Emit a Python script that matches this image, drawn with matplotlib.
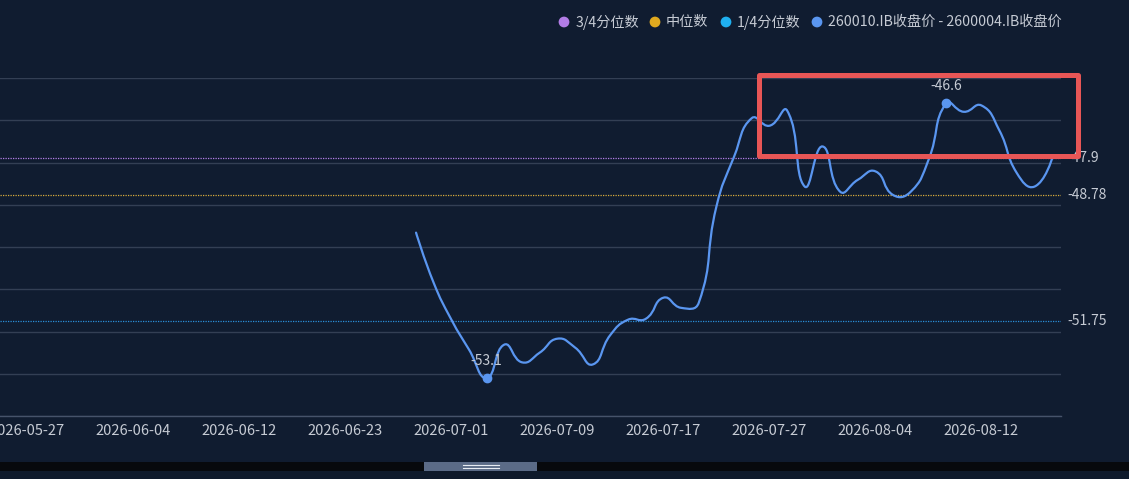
import numpy as np
import pandas as pd
import matplotlib
matplotlib.use('Agg')
import matplotlib.pyplot as plt
from matplotlib.path import Path
from matplotlib.patches import PathPatch, Rectangle

plt.rcParams['font.family'] = ['Noto Sans CJK SC', 'DejaVu Sans']

# trading-day categories (dragon boat holiday 06-19 skipped)
categories = pd.bdate_range('2026-05-27', '2026-08-18', freq='C',
                            holidays=['2026-06-19']).strftime('%Y-%m-%d').tolist()
tick_labels = ['2026-05-27', '2026-06-04', '2026-06-12', '2026-06-23', '2026-07-01',
               '2026-07-09', '2026-07-17', '2026-07-27', '2026-08-04', '2026-08-12']

spread_start = '2026-06-29'
spread = [-49.66, -50.85, -51.72, -52.43, -53.10, -52.31, -52.73, -52.50, -52.17, -52.38,
          -52.78, -52.08, -51.72, -51.70, -51.20, -51.44, -51.32, -49.04, -47.86, -46.95,
          -47.13, -46.77, -48.57, -47.62, -48.69, -48.41, -48.21, -48.77, -48.69, -47.94,
          -46.60, -46.80, -46.65, -47.23, -48.25, -48.57, -47.90]

q3 = -47.9
median = -48.78
q1 = -51.75

legend_names = ['3/4分位数', '中位数', '1/4分位数', '260010.IB收盘价 - 2600004.IB收盘价']

bg = '#101c30'
line_c = '#5a96f0'
q3_c = '#b27de6'
med_c = '#d6ab3c'
q1_c = '#2a8fd8'
txt_c = '#c6cbd4'

W, H = 1129, 479
fig = plt.figure(figsize=(W / 100, H / 100), dpi=100, facecolor=bg)

# plot area in pixels: x 0..1061, y 78..416
ax = fig.add_axes([0, (H - 416) / H, 1061 / W, (416 - 78) / H])
ax.set_facecolor('none')

x0 = categories.index(spread_start)
xs = np.arange(x0, x0 + len(spread))
ys = np.array(spread)
x_right = len(categories) - 0.5
ax.set_xlim(x_right - 1061 / 17.67, x_right)
ax.set_ylim(-54, -46)


def smooth_path(xs, ys, sx, sy, k=0.5):
    # echarts-like bezier smoothing, computed in pixel scale
    px = np.asarray(xs, float) * sx
    py = np.asarray(ys, float) * sy
    n = len(px)
    cps = []
    for i in range(n):
        if i == 0 or i == n - 1:
            cps.append(((px[i], py[i]), (px[i], py[i])))
            continue
        vx = px[i + 1] - px[i - 1]
        vy = py[i + 1] - py[i - 1]
        d0 = np.hypot(px[i] - px[i - 1], py[i] - py[i - 1])
        d1 = np.hypot(px[i + 1] - px[i], py[i + 1] - py[i])
        r0 = d0 / (d0 + d1)
        r1 = d1 / (d0 + d1)
        cps.append(((px[i] - vx * k * r0, py[i] - vy * k * r0),
                    (px[i] + vx * k * r1, py[i] + vy * k * r1)))
    verts = [(xs[0], ys[0])]
    codes = [Path.MOVETO]
    for i in range(n - 1):
        c1 = cps[i][1]
        c2 = cps[i + 1][0]
        verts += [(c1[0] / sx, c1[1] / sy), (c2[0] / sx, c2[1] / sy), (xs[i + 1], ys[i + 1])]
        codes += [Path.CURVE4] * 3
    return Path(verts, codes)


ax.add_patch(PathPatch(smooth_path(xs, ys, 17.67, 42.3), fill=False, ec=line_c, lw=1.6,
                       zorder=4, capstyle='round', joinstyle='round'))

# quantile mark lines
for val, col in [(q3, q3_c), (median, med_c), (q1, q1_c)]:
    ax.axhline(val, color=col, lw=0.9, ls=(0, (1, 1)), zorder=3)
    ax.text(1067 / 1061, val, f'{val:g}', transform=ax.get_yaxis_transform(),
            color=txt_c, fontsize=10, va='center', ha='left', clip_on=False)

# max / min mark points
for idx in [int(np.argmax(ys)), int(np.argmin(ys))]:
    ax.plot(xs[idx], ys[idx], 'o', ms=6, color=line_c, zorder=5)
    ax.annotate(f'{ys[idx]:.1f}', (xs[idx], ys[idx]), xytext=(0, 7.5), textcoords='offset points',
                ha='center', va='bottom', color=txt_c, fontsize=10, zorder=6)

ax.set_yticks(np.arange(-54, -45))
ax.grid(axis='y', color='#333f54', lw=1)
ax.set_yticklabels([])
ax.tick_params(axis='y', length=0)
tick_pos = [categories.index(t) for t in tick_labels]
ax.set_xticks(tick_pos)
ax.set_xticklabels(tick_labels, color=txt_c, fontsize=10.5)
ax.tick_params(axis='x', length=0, pad=6)
for s in ['top', 'right', 'left']:
    ax.spines[s].set_visible(False)
ax.spines['bottom'].set_color('#46536a')
ax.spines['bottom'].set_linewidth(1)

# overlay in pixel coords: legend, slider, highlight box
ov = fig.add_axes([0, 0, 1, 1], zorder=10)
ov.set_xlim(0, W)
ov.set_ylim(H, 0)
ov.axis('off')
ov.patch.set_alpha(0)

leg_colors = [q3_c, '#e0a91f', '#1fb0f0', line_c]
leg_dot_x = [564, 655, 726, 817]
leg_txt_x = [576, 666, 737, 828]
for name, col, cx, tx in zip(legend_names, leg_colors, leg_dot_x, leg_txt_x):
    ov.scatter(cx, 22, s=60, color=col, edgecolors='none')
    ov.text(tx, 22, name, color=txt_c, fontsize=10.2, va='center', ha='left')

ov.add_patch(Rectangle((0, 461.5), W, 9.5, color='#07090d', lw=0))
ov.add_patch(Rectangle((0, 471), W, 8, color='#0f1a2b', lw=0))
ov.add_patch(Rectangle((424, 462), 113, 9, color='#5b6b87', lw=0))
ov.plot([463, 499], [465.3, 465.3], color='#e8ecf2', lw=0.8)
ov.plot([463, 499], [467.6, 467.6], color='#e8ecf2', lw=0.8)

ov.add_patch(Rectangle((759, 74.5), 318.5, 81.3, fill=False, ec='#e85656', lw=3.6,
                       joinstyle='round'))

fig.savefig('out.png', dpi=100, facecolor=bg)
